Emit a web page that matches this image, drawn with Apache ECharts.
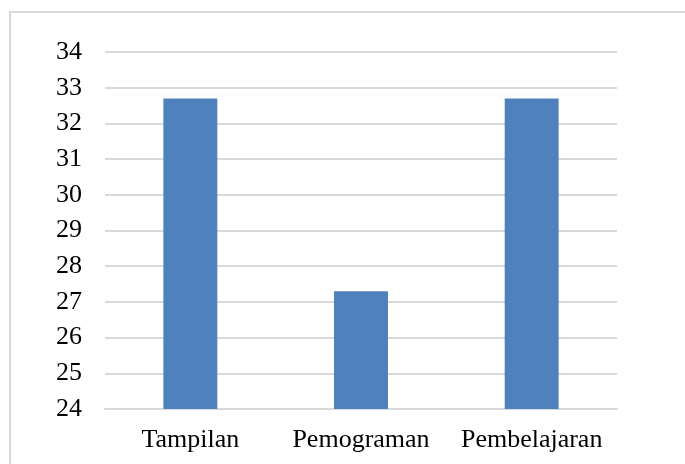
<!DOCTYPE html>
<html>
<head>
<meta charset="utf-8">
<script src="https://cdn.jsdelivr.net/npm/echarts@6/dist/echarts.min.js"></script>
<style>
  html, body { margin: 0; padding: 0; background: #fff; overflow: hidden; }
  #chart { width: 685px; height: 464px; }
</style>
</head>
<body>
<div id="chart"></div>
<script>
  const categories = ["Tampilan", "Pemograman", "Pembelajaran"];
  const values = [32.7, 27.3, 32.7];

  const chart = echarts.init(document.getElementById("chart"));
  chart.setOption({
    animation: false,
    textStyle: { fontFamily: "Liberation Serif" },
    graphic: [
      {
        type: "rect",
        shape: { x: 10, y: 12, width: 720, height: 500 },
        style: { fill: "none", stroke: "#d9d9d9", lineWidth: 2 },
        silent: true,
      },
    ],
    grid: { left: 105, right: 68, top: 52, bottom: 55 },
    xAxis: {
      type: "category",
      data: categories,
      axisTick: { show: false },
      axisLine: { lineStyle: { color: "#d9d9d9", width: 2 } },
      axisLabel: {
        color: "#000",
        fontSize: 26,
        margin: 18,
        interval: 0,
        hideOverlap: false,
        fontFamily: "Liberation Serif",
      },
    },
    yAxis: {
      type: "value",
      min: 24,
      max: 34,
      interval: 1,
      axisLine: { show: false },
      axisTick: { show: false },
      axisLabel: { color: "#000", fontSize: 26, margin: 23, fontFamily: "Liberation Serif" },
      splitLine: { lineStyle: { color: "#d9d9d9", width: 2 } },
    },
    series: [
      {
        type: "bar",
        data: values,
        barWidth: "31.6%",
        itemStyle: { color: "#4f81bd" },
      },
    ],
  });
</script>
</body>
</html>
